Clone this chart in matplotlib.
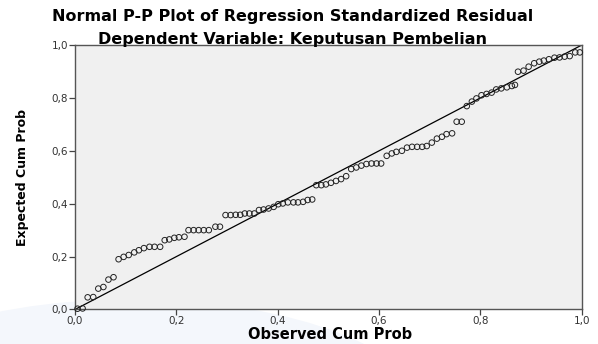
import matplotlib
matplotlib.use("Agg")
import matplotlib.pyplot as plt
from matplotlib.patches import Ellipse

obs = [0.005, 0.015, 0.025, 0.036, 0.046, 0.056, 0.066, 0.076,
       0.086, 0.096, 0.106, 0.117, 0.126, 0.136, 0.147, 0.157, 0.168,
       0.177, 0.186, 0.196, 0.205, 0.216,
       0.224, 0.234, 0.244, 0.254, 0.264,
       0.277, 0.286,
       0.297, 0.307, 0.317, 0.326, 0.335, 0.344, 0.354,
       0.363, 0.372, 0.382, 0.392,
       0.401, 0.410, 0.420, 0.431, 0.440, 0.450, 0.459, 0.468,
       0.476, 0.486, 0.495, 0.505, 0.515, 0.525, 0.535,
       0.545, 0.555, 0.565, 0.575, 0.585, 0.595, 0.604,
       0.615, 0.625, 0.634, 0.645, 0.655, 0.665, 0.675, 0.685, 0.694,
       0.704, 0.714, 0.724, 0.733, 0.744,
       0.753, 0.763,
       0.773, 0.783, 0.792, 0.802, 0.812, 0.822, 0.831, 0.841, 0.852, 0.862, 0.868,
       0.874, 0.885, 0.895, 0.906, 0.916, 0.925, 0.935, 0.946, 0.956, 0.966, 0.976, 0.987, 0.996]
exp = [0.003, 0.004, 0.046, 0.047, 0.079, 0.085, 0.113, 0.122,
       0.190, 0.199, 0.206, 0.216, 0.224, 0.232, 0.237, 0.237, 0.237,
       0.262, 0.265, 0.271, 0.273, 0.275,
       0.300, 0.300, 0.300, 0.300, 0.300,
       0.313, 0.313,
       0.357, 0.357, 0.358, 0.358, 0.363, 0.363, 0.363,
       0.376, 0.378, 0.382, 0.388,
       0.398, 0.401, 0.405, 0.405, 0.405, 0.407, 0.414, 0.416,
       0.470, 0.470, 0.473, 0.479, 0.486, 0.493, 0.504,
       0.531, 0.537, 0.544, 0.550, 0.552, 0.552, 0.552,
       0.581, 0.590, 0.596, 0.600, 0.612, 0.615, 0.615, 0.615, 0.618,
       0.631, 0.646, 0.653, 0.663, 0.666,
       0.710, 0.710,
       0.769, 0.786, 0.798, 0.810, 0.815, 0.820, 0.832, 0.836, 0.840, 0.845, 0.849,
       0.899, 0.903, 0.918, 0.931, 0.937, 0.941, 0.946, 0.952, 0.953, 0.956, 0.958, 0.972, 0.972]

xticks = [0.0, 0.2, 0.4, 0.6, 0.8, 1.0]
ticklabels = ["0,0", "0,2", "0,4", "0,6", "0,8", "1,0"]
title1 = "Normal P-P Plot of Regression Standardized Residual"
title2 = "Dependent Variable: Keputusan Pembelian"
xlabel = "Observed Cum Prob"
ylabel = "Expected Cum Prob"

fig = plt.figure(figsize=(5.98, 3.44), dpi=100)
fig.patch.set_facecolor("white")

# faint background watermark shape behind the chart
wm = Ellipse((0.22, -0.22), 1.0, 0.70, transform=fig.transFigure,
             facecolor="#f4f7fc", edgecolor="none", zorder=-5)
fig.patches.append(wm)

ax = fig.add_axes([0.1254, 0.1003, 0.8476, 0.7689])
ax.set_zorder(1)
ax.set_facecolor("#f0f0f0")
ax.set_xlim(0, 1)
ax.set_ylim(0, 1)

ax.plot([0, 1], [0, 1], color="black", lw=0.9, zorder=2)
ax.scatter(obs, exp, s=16, facecolors="none", edgecolors="#222222",
           linewidths=0.7, zorder=3, clip_on=False)

ax.set_xticks(xticks)
ax.set_xticklabels(ticklabels)
ax.set_yticks(xticks)
ax.set_yticklabels(ticklabels)
ax.tick_params(direction="out", length=4, width=0.9, colors="#444444",
               labelsize=7.5, labelcolor="#333333", pad=1)
for s in ax.spines.values():
    s.set_color("#555555")
    s.set_linewidth(1.0)

fig.text(0.552, 0.028, xlabel, ha="center", va="center", fontsize=10.5,
         fontweight="bold", family="DejaVu Sans")
fig.text(0.037, 0.484, ylabel, ha="center", va="center", rotation=90,
         fontsize=9, fontweight="bold", family="Liberation Sans Narrow")

fig.text(0.489, 0.952, title1, ha="center", va="center", fontsize=11.5,
         fontweight="bold", family="DejaVu Sans")
fig.text(0.489, 0.884, title2, ha="center", va="center", fontsize=11.5,
         fontweight="bold", family="DejaVu Sans")

fig.savefig("out.png", dpi=100)
